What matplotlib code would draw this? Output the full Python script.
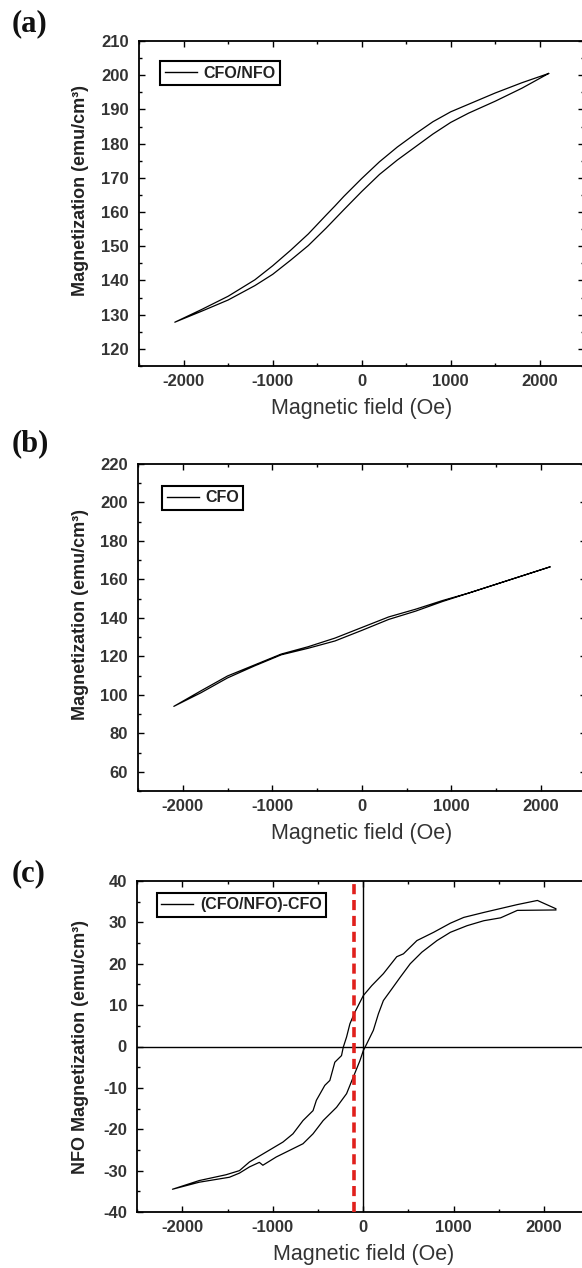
import matplotlib
matplotlib.use('Agg')
import matplotlib.pyplot as plt
from matplotlib.ticker import MultipleLocator

plt.rcParams['font.family'] = ['Liberation Sans', 'DejaVu Sans']
plt.rcParams['font.weight'] = 'bold'
plt.rcParams['axes.unicode_minus'] = False

# ---------------- data ----------------
# (a) CFO/NFO : descending branch (from +H to -H) and ascending branch
a_H_down = [2100, 1800, 1500, 1200, 1000, 800, 600, 400, 200, 0, -200, -300, -400,
            -600, -800, -1000, -1200, -1500, -1800, -2100]
a_M_down = [200.5, 197.8, 194.8, 191.5, 189.3, 186.4, 182.8, 179.0, 174.7, 169.8,
            164.6, 161.8, 159.1, 153.6, 148.8, 144.3, 140.2, 135.4, 131.5, 127.8]
a_H_up = [-2100, -1800, -1500, -1200, -1000, -800, -600, -400, -200, 0, 200, 400,
          600, 800, 1000, 1200, 1500, 1800, 2100]
a_M_up = [127.8, 131.0, 134.3, 138.5, 141.8, 145.9, 150.2, 155.3, 160.7, 166.0,
          171.0, 175.2, 179.0, 182.8, 186.2, 188.9, 192.4, 196.2, 200.5]

# (b) CFO
b_H_down = [2100, 1800, 1500, 1200, 900, 600, 300, 0, -300, -600, -900, -1200,
            -1500, -1800, -2100]
b_M_down = [166.5, 162.0, 157.5, 153.0, 149.0, 144.5, 140.5, 135.0, 129.5, 125.0,
            121.2, 115.5, 109.8, 102.0, 94.0]
b_H_up = [-2100, -1800, -1500, -1200, -900, -600, -300, 0, 300, 600, 900, 1200,
          1500, 1800, 2100]
b_M_up = [94.0, 101.0, 108.8, 115.0, 120.8, 124.2, 128.0, 133.5, 139.2, 143.5,
          148.5, 153.0, 157.5, 162.0, 166.5]

# (c) (CFO/NFO)-CFO
c_H_down = [2130, 1926, 1704, 1333, 1111, 963, 778, 593, 444, 370, 222, 93, 0, -93,
            -148, -185, -222, -241, -315, -370, -426, -519, -556, -667, -778, -889,
            -1074, -1259, -1370, -1519, -1815, -2111]
c_M_down = [33.3, 35.3, 34.3, 32.4, 31.2, 29.8, 27.6, 25.6, 22.4, 21.7, 17.6, 14.7,
            12.3, 8.3, 5.5, 2.3, -0.2, -2.2, -3.8, -8.2, -9.4, -13.0, -15.5, -17.9,
            -21.1, -23.1, -25.5, -27.9, -30.0, -31.0, -32.4, -34.5]
c_H_up = [-2111, -1815, -1481, -1370, -1259, -1150, -1111, -963, -815, -667, -556,
          -444, -296, -185, -111, -37, 0, 37, 111, 167, 222, 315, 407, 519, 648, 815,
          963, 1148, 1333, 1519, 1704, 2130]
c_M_up = [-34.5, -32.8, -31.6, -30.6, -29.1, -28.0, -28.7, -26.7, -25.1, -23.5, -21.1,
          -17.9, -14.7, -11.4, -7.4, -3.4, -1.0, 0.6, 3.9, 7.9, 11.1, 13.9, 16.7, 20.0,
          22.8, 25.6, 27.6, 29.2, 30.4, 31.1, 32.9, 33.0]
c_marker_H = -100

x_ticks_major = 1000
x_ticks_minor = 500

# ---------------- figure ----------------
W, H = 582, 1268
fig = plt.figure(figsize=(W / 100, H / 100), dpi=100)


def add_axes(l, r, t, b):
    return fig.add_axes([l / W, 1 - b / H, (r - l) / W, (b - t) / H])


ax_a = add_axes(139.2, 584.2, 41, 366)
ax_b = add_axes(138.0, 585.7, 464, 791)
ax_c = add_axes(137.3, 589.3, 881, 1212)

TICK_COL = '#333333'


def style(ax, ylim, ymaj, ymin, ylabel, label_y, left_px, width_px, height_px):
    ax.set_xlim(-2500, 2500)
    ax.set_ylim(*ylim)
    ax.xaxis.set_major_locator(MultipleLocator(x_ticks_major))
    ax.xaxis.set_minor_locator(MultipleLocator(x_ticks_minor))
    ax.yaxis.set_major_locator(MultipleLocator(ymaj))
    ax.yaxis.set_minor_locator(MultipleLocator(ymin))
    ax.tick_params(which='both', direction='in', top=True, right=True,
                   width=1.0, colors='black', labelcolor=TICK_COL, labelsize=12)
    ax.tick_params(which='major', length=4)
    ax.tick_params(which='minor', length=2.3)
    ax.tick_params(axis='x', pad=5.5)
    ax.tick_params(axis='y', pad=7.5)
    for s in ax.spines.values():
        s.set_linewidth(1.3)
    ax.set_xlabel('Magnetic field (Oe)', fontsize=15.5, fontweight='normal',
                  color='#333333')
    ax.xaxis.set_label_coords(0.5, -32 / height_px)
    ax.set_ylabel(ylabel, fontsize=13, fontweight='bold', color='#222222')
    ax.yaxis.set_label_coords((89 - left_px) / width_px, label_y)


def legend(ax, label, x, y):
    line, = ax.plot([], [], color='black', lw=1.0, label=label)
    leg = ax.legend(handles=[line], loc='upper left', bbox_to_anchor=(x, y),
                    borderaxespad=0, frameon=True, fancybox=False,
                    edgecolor='black', framealpha=1,
                    prop=dict(family='Liberation Sans', weight='bold', size=11.5),
                    handlelength=2.0, handletextpad=0.4, borderpad=0.28)
    leg.get_frame().set_linewidth(1.5)
    for t in leg.get_texts():
        t.set_color('#222222')


# (a)
ax_a.plot(a_H_down + a_H_up, a_M_down + a_M_up, color='black', lw=0.9)
style(ax_a, (115, 210), 10, 5, 'Magnetization (emu/cm³)', 0.54, 139.2, 445.0, 325)
legend(ax_a, 'CFO/NFO', 0.047, 0.938)

# (b)
ax_b.plot(b_H_down + b_H_up, b_M_down + b_M_up, color='black', lw=0.9)
style(ax_b, (50, 220), 20, 10, 'Magnetization (emu/cm³)', 0.54, 138.0, 447.7, 327)
legend(ax_b, 'CFO', 0.054, 0.933)

# (c)
ax_c.axhline(0, color='black', lw=1.0, zorder=1)
ax_c.axvline(0, color='black', lw=1.0, zorder=1)
ax_c.plot(c_H_down + c_H_up, c_M_down + c_M_up, color='black', lw=0.9, zorder=2)
ax_c.axvline(c_marker_H, color='#e0201c', lw=2.6, ls=(0, (2.8, 1.6)), zorder=3)
style(ax_c, (-40, 40), 10, 5, 'NFO Magnetization (emu/cm³)', 0.5, 137.3, 452.0, 331)
legend(ax_c, '(CFO/NFO)-CFO', 0.0436, 0.964)

# panel letters
for lab, ypx in [('(a)', 24), ('(b)', 444), ('(c)', 874)]:
    fig.text(12 / W, 1 - ypx / H, lab, fontfamily='Liberation Serif',
             fontweight='bold', fontsize=22, va='center', ha='left', color='#111111')

fig.savefig('out.png', dpi=100)
